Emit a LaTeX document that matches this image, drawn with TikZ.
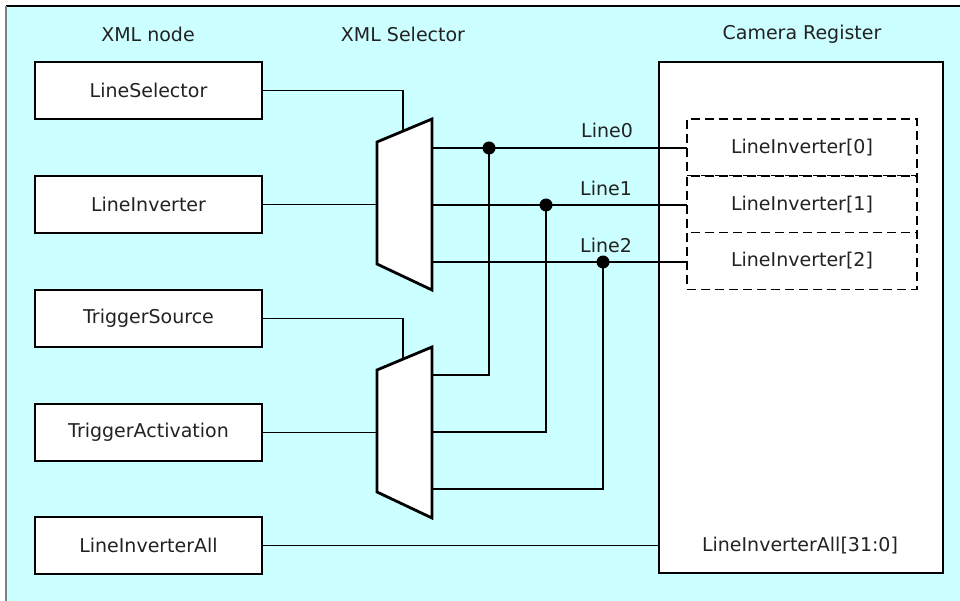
\documentclass[tikz,border=0pt]{standalone}
\usepackage{fontspec}
\setmainfont{DejaVu Sans}
\begin{document}
\begin{tikzpicture}[x=1pt,y=-1pt,
  every node/.style={font=\fontsize{19}{22}\selectfont, text=txt, inner sep=0pt, outer sep=0pt},
  xbox/.style={draw=black, fill=white, line width=2pt, minimum width=227pt, minimum height=57pt},
  regbox/.style={draw=black, fill=white, line width=2pt, minimum width=284pt, minimum height=511pt},
  dbox/.style={draw=black, fill=white, line width=1.6pt, dash pattern=on 9pt off 5pt, minimum width=230pt, minimum height=57pt},
  conn/.style={draw=black, line width=1.8pt},
  mux/.style={draw=black, fill=white, line width=2.8pt, line join=miter},
  dotc/.style={fill=black}
]
\definecolor{bgc}{HTML}{CCFFFF}
\definecolor{txt}{HTML}{222222}
\useasboundingbox (0,0) rectangle (960,601);
\fill[white] (0,0) rectangle (960,601);
\fill[bgc] (6,6) rectangle (960,601);
\draw[black, line width=1.5pt] (6,6) -- (960,6);
\draw[gray, line width=2pt] (6,6) -- (6,601);

% headers
\node (h1) at (148,34) {XML node};
\node (h2) at (403,34) {XML Selector};
\node (h3) at (802,34) {Camera Register};

% camera register
\node[regbox] (reg) at (801,317.5) {};
\node[dbox] (d0) at (802,147.5) {LineInverter[0]};
\node[dbox] (d1) at (802,204.5) {LineInverter[1]};
\node[dbox] (d2) at (802,261) {LineInverter[2]};
\node (rall) at (800,546) {LineInverterAll[31:0]};

% left boxes
\node[xbox] (ls) at (148.5,90.5) {LineSelector};
\node[xbox] (li) at (148.5,204.5) {LineInverter};
\node[xbox] (ts) at (148.5,318.5) {TriggerSource};
\node[xbox] (ta) at (148.5,432.5) {TriggerActivation};
\node[xbox] (la) at (148.5,545.5) {LineInverterAll};

% mux shapes
\coordinate (m1a) at (377,142); \coordinate (m1b) at (432,119);
\coordinate (m1c) at (432,290); \coordinate (m1d) at (377,264);
\coordinate (m2a) at (377,370); \coordinate (m2b) at (432,347);
\coordinate (m2c) at (432,518); \coordinate (m2d) at (377,492);

% select lines
\coordinate (s1) at (403,131);
\coordinate (s2) at (403,359);
\draw[conn] (ls.east) -| (s1);
\draw[conn] (ts.east) -| (s2);
\draw[conn] (li.east) -- (377,204.5);
\draw[conn] (ta.east) -- (377,432.5);

% outputs of mux1
\coordinate (o10) at (432,148); \coordinate (o11) at (432,205); \coordinate (o12) at (432,262);
\draw[conn] (o10) -- (o10 -| d0.west);
\draw[conn] (o11) -- (o11 -| d1.west);
\draw[conn] (o12) -- (o12 -| d2.west);

% outputs of mux2
\coordinate (j0) at (489,148); \coordinate (j1) at (546,205); \coordinate (j2) at (603,262);
\coordinate (o20) at (432,375); \coordinate (o21) at (432,432); \coordinate (o22) at (432,489);
\draw[conn] (o20) -| (j0);
\draw[conn] (o21) -| (j1);
\draw[conn] (o22) -| (j2);
\fill[dotc] (j0) circle (6.5pt);
\fill[dotc] (j1) circle (6.5pt);
\fill[dotc] (j2) circle (6.5pt);

\draw[mux] (m1a) -- (m1b) -- (m1c) -- (m1d) -- cycle;
\draw[mux] (m2a) -- (m2b) -- (m2c) -- (m2d) -- cycle;

% LineInverterAll
\draw[conn] (la.east) -- (la.east -| reg.west);

% line labels
\node (l0) at (607,130) {Line0};
\node (l1) at (606,188) {Line1};
\node (l2) at (606,245) {Line2};
\end{tikzpicture}
\end{document}
